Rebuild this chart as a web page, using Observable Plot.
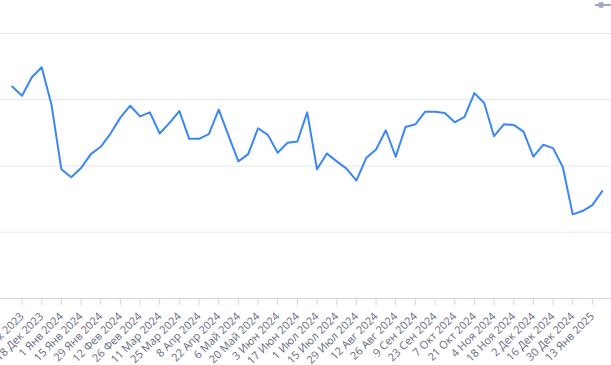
<!DOCTYPE html>
<html>
<head>
<meta charset="utf-8">
<script src="https://cdn.jsdelivr.net/npm/d3@7"></script>
<script src="https://cdn.jsdelivr.net/npm/@observablehq/plot@0.6"></script>
<style>
  html, body { margin: 0; padding: 0; background: #fff; }
  #wrap { position: relative; width: 611px; height: 365px; overflow: hidden; }
  #legend { position: absolute; left: 593px; top: 0px; }
</style>
</head>
<body>
<div id="wrap">
  <div id="chart"></div>
  <svg id="legend" width="18" height="10"><line x1="2" y1="5" x2="18" y2="5" stroke="#a3a8c4" stroke-width="2"/><circle cx="8" cy="5" r="3" fill="#a3a8c4"/></svg>
</div>
<script>
// Weekly series, starting Monday 27 Nov 2023
const startDate = "2023-11-27";
const values = [
  32.0, 30.6, 33.4, 34.9, 29.2, 19.5, 18.3, 19.7, 21.8, 22.9,
  24.9, 27.3, 29.1, 27.5, 28.1, 24.9, 26.5, 28.3, 24.1, 24.1,
  24.8, 28.5, 24.6, 20.7, 21.8, 25.7, 24.7, 22.0, 23.5, 23.7,
  28.1, 19.5, 21.9, 20.7, 19.6, 17.8, 21.2, 22.5, 25.4, 21.4,
  25.9, 26.3, 28.2, 28.2, 28.0, 26.6, 27.4, 31.0, 29.5, 24.5,
  26.3, 26.2, 25.2, 21.4, 23.2, 22.7, 19.8, 12.7, 13.2, 14.1,
  16.2
];
const tickDates = [
  "2023-12-04", "2023-12-18", "2024-01-01", "2024-01-15", "2024-01-29",
  "2024-02-12", "2024-02-26", "2024-03-11", "2024-03-25", "2024-04-08",
  "2024-04-22", "2024-05-06", "2024-05-20", "2024-06-03", "2024-06-17",
  "2024-07-01", "2024-07-15", "2024-07-29", "2024-08-12", "2024-08-26",
  "2024-09-09", "2024-09-23", "2024-10-07", "2024-10-21", "2024-11-04",
  "2024-11-18", "2024-12-02", "2024-12-16", "2024-12-30", "2025-01-13"
];
const monthNames = ["Янв", "Фев", "Мар", "Апр", "Май", "Июн", "Июл", "Авг", "Сен", "Окт", "Ноя", "Дек"];
const gridValues = [10, 20, 30, 40];

const t0 = new Date(startDate + "T00:00:00Z");
const data = values.map((v, i) => ({date: new Date(t0.getTime() + i * 7 * 86400000), value: v}));
const ticks = tickDates.map(s => new Date(s + "T00:00:00Z"));
const fmt = d => `${d.getUTCDate()} ${monthNames[d.getUTCMonth()]} ${d.getUTCFullYear()}`;

const chart = Plot.plot({
  width: 611,
  height: 365,
  marginLeft: 0,
  marginRight: 0,
  marginTop: 33,
  marginBottom: 67,
  style: {fontFamily: "'Open Sans', sans-serif", fontSize: "11px", background: "#fff"},
  x: {type: "utc", domain: [data[0].date, data[data.length - 1].date], range: [11.7, 601.7]},
  y: {domain: [0, 40], range: [298, 33], axis: null},
  marks: [
    Plot.gridY(gridValues, {stroke: "#e6e6e6", strokeOpacity: 1}),
    Plot.ruleY([0], {stroke: "#ccd6eb"}),
    Plot.axisX(ticks, {
      tickFormat: fmt,
      tickRotate: -45,
      tickSize: 7,
      tickPadding: 9,
      stroke: "#ccd6eb",
      fill: "#666a80",
      label: null
    }),
    Plot.lineY(data, {x: "date", y: "value", stroke: "#3a87f4", strokeWidth: 2, strokeLinejoin: "round"})
  ]
});
document.getElementById("chart").appendChild(chart);
</script>
</body>
</html>
